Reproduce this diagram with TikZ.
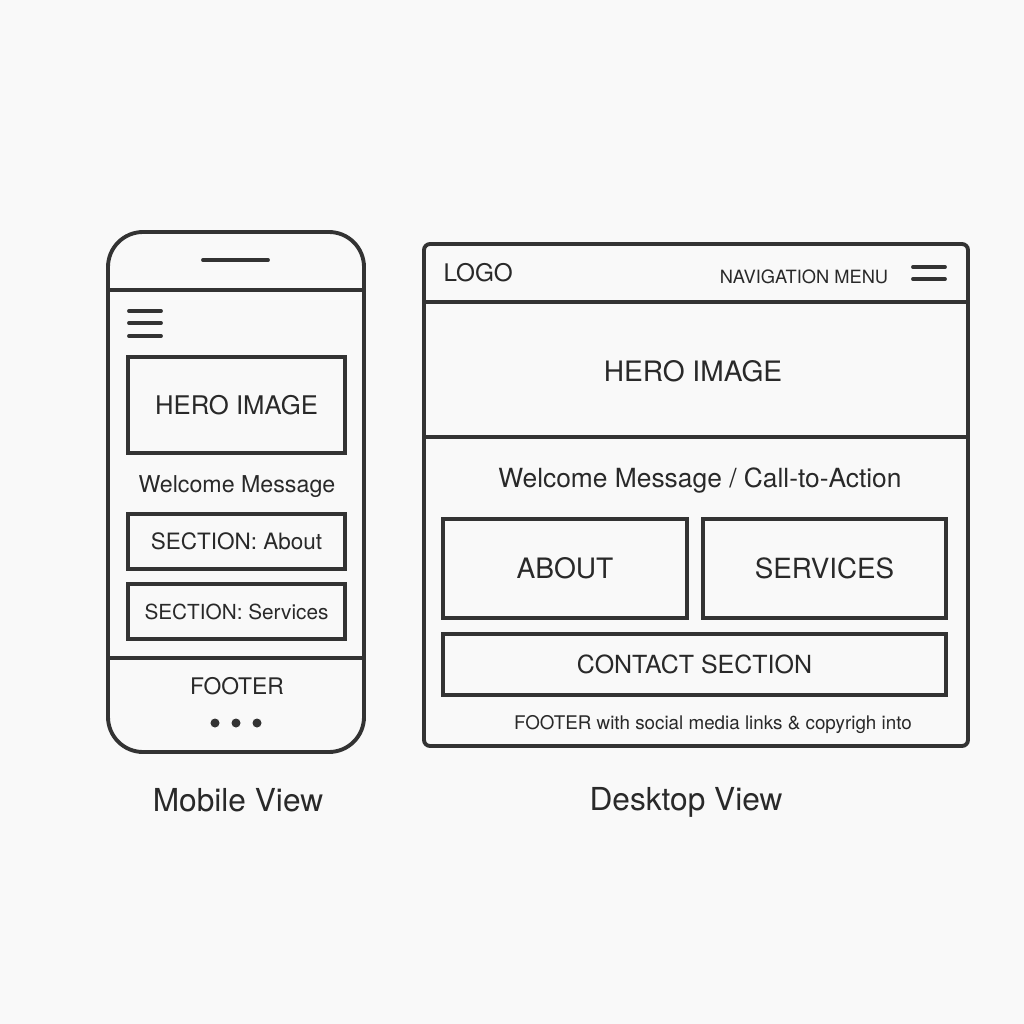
\documentclass[tikz,border=0pt]{standalone}
\usepackage{fontspec}
\setmainfont{TeX Gyre Heros}
\usepackage{tikz}
\definecolor{ink}{HTML}{333333}
\definecolor{paper}{HTML}{F9F9F9}
\tikzset{
  frame/.style={draw=ink, line width=1.1pt},
  box/.style={draw=ink, line width=1.1pt, rectangle, inner sep=0pt, text=ink!80!black},
  lbl/.style={inner sep=0pt, text=ink!80!black}
}

\begin{document}
\begin{tikzpicture}[x=0.01cm, y=-0.01cm]
 \fill[paper] (0,0) rectangle (1024,1024);
 \useasboundingbox (0,0) rectangle (1024,1024);

 % mobile
 \draw[frame, rounded corners=0.35cm] (108,232) rectangle (364,752);
 \draw[frame] (108,290) -- (364,290);
 \draw[frame] (108,658) -- (364,658);
 \draw[frame, line cap=round] (203,260) -- (268,260);
 \draw[frame, line cap=round] (129,311) -- (161,311);
 \draw[frame, line cap=round] (129,323) -- (161,323);
 \draw[frame, line cap=round] (129,336) -- (161,336);

 \node[box, minimum width=2.17cm, minimum height=0.96cm, font=\fontsize{7.3}{8}\selectfont] (mhero) at (236.5,405) {HERO IMAGE};
 \node[lbl, font=\fontsize{6.6}{8}\selectfont] (mwelcome) at (237,487) {Welcome Message};
 \node[box, minimum width=2.17cm, minimum height=0.55cm, font=\fontsize{6.4}{8}\selectfont] (mabout) at (236.5,541.5) {SECTION: About};
 \node[box, minimum width=2.17cm, minimum height=0.55cm, font=\fontsize{5.9}{8}\selectfont] (mservices) at (236.5,611.5) {SECTION: Services};
 \node[lbl, font=\fontsize{6.5}{8}\selectfont] (mfooter) at (237,686) {FOOTER};
 \fill[ink] (215,723) circle (0.045cm);
 \fill[ink] (236,723) circle (0.045cm);
 \fill[ink] (257,723) circle (0.045cm);

 \node[lbl, font=\fontsize{9}{11}\selectfont] (mview) at (238,800) {Mobile View};

 % desktop
 \draw[frame, rounded corners=0.06cm] (424,244) rectangle (968,746);
 \draw[frame] (424,302) -- (968,302);
 \draw[frame] (424,437) -- (968,437);
 \node[lbl, anchor=west, font=\fontsize{6.9}{8}\selectfont] (logo) at (443,273) {LOGO};
 \node[lbl, font=\fontsize{5.2}{6}\selectfont] (nav) at (804,277) {NAVIGATION MENU};
 \draw[frame, line cap=round] (913,267) -- (945,267);
 \draw[frame, line cap=round] (913,279) -- (945,279);

 \node[lbl, font=\fontsize{8}{10}\selectfont] (dhero) at (693,371) {HERO IMAGE};
 \node[lbl, font=\fontsize{7.5}{9}\selectfont] (dwelcome) at (700,481) {Welcome Message / Call-to-Action};
 \node[box, minimum width=2.44cm, minimum height=0.99cm, font=\fontsize{8}{10}\selectfont] (dabout) at (565,568.5) {ABOUT};
 \node[box, minimum width=2.43cm, minimum height=0.99cm, font=\fontsize{7.9}{10}\selectfont] (dservices) at (824.5,568.5) {SERVICES};
 \node[box, minimum width=5.03cm, minimum height=0.61cm, font=\fontsize{7.1}{9}\selectfont] (contact) at (694.5,664.5) {CONTACT SECTION};
 \node[lbl, font=\fontsize{5.35}{6}\selectfont] (dfooter) at (713,725) {FOOTER with social media links \& copyrigh into};

 \node[lbl, font=\fontsize{9}{11}\selectfont] (dview) at (686,802) {Desktop View};
\end{tikzpicture}
\end{document}
